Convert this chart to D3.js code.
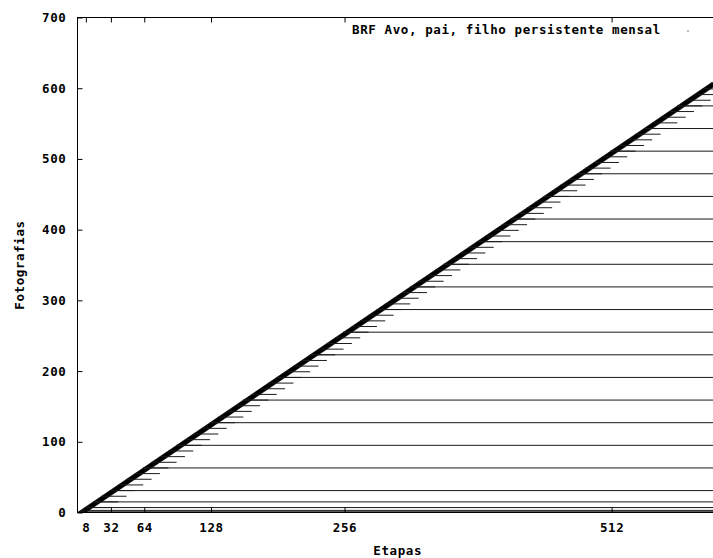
<!DOCTYPE html>
<html>
<head>
<meta charset="utf-8">
<script src="https://cdn.jsdelivr.net/npm/d3@7"></script>
<style>
  body { margin: 0; background: #fff; }
  text { font-family: "DejaVu Sans Mono", monospace; font-weight: bold; font-size: 12.5px; letter-spacing: 0.6px; fill: #000; }
</style>
</head>
<body>
<svg id="chart" width="713" height="558"></svg>
<script>
/* global d3 */

var xTicks = [8, 32, 64, 128, 256, 512];
var yTicks = [0, 100, 200, 300, 400, 500, 600, 700];

// daily photos: first and last photo number, each kept 8 stages
var dailyIds = [0, 608];
var dailyKeep = 8;

// weekly photos, each kept 24 stages
var weeklyIds = [7, 15, 23, 31, 39, 47, 55, 63, 71, 79, 87, 95, 103, 111, 119, 127,
  135, 143, 151, 159, 167, 175, 183, 191, 199, 207, 215, 223, 231, 239, 247, 255,
  263, 271, 279, 287, 295, 303, 311, 319, 327, 335, 343, 351, 359, 367, 375, 383,
  391, 399, 407, 415, 423, 431, 439, 447, 455, 463, 471, 479, 487, 495, 503, 511,
  519, 527, 535, 543, 551, 559, 567, 575, 583, 591, 599, 607];
var weeklyKeep = 24;

// photos that are never removed
var persistentIds = [0, 1, 3, 7, 15, 31, 63, 95, 127, 159, 191, 223, 255, 287, 319,
  351, 383, 415, 447, 479, 511, 543, 575, 607];

var lastStage = 614;
var legendLabel = "BRF Avo, pai, filho persistente mensal";

var svg = d3.select("#chart");
var plotLeft = 77.5, plotRight = 718, plotTop = 17.5, plotBottom = 512.5;

var x = d3.scaleLinear().domain([0, lastStage]).range([plotLeft, plotRight]);
var y = d3.scaleLinear().domain([0, 700]).range([plotBottom, plotTop]);

svg.append("clipPath")
  .attr("id", "plot-clip")
  .append("rect")
  .attr("x", plotLeft)
  .attr("y", plotTop - 1)
  .attr("width", plotRight - plotLeft)
  .attr("height", plotBottom - plotTop + 2);

var plot = svg.append("g").attr("clip-path", "url(#plot-clip)");

// thick diagonal made of the daily photos
var band = d3.area()
  .y(d => y(d))
  .x0(d => x(d))
  .x1(d => x(d + dailyKeep));

plot.append("path")
  .datum(dailyIds)
  .attr("d", band)
  .attr("fill", "#000")
  .attr("stroke", "#000")
  .attr("stroke-width", 0.6);

plot.append("g")
  .selectAll("line")
  .data(weeklyIds)
  .join("line")
  .attr("x1", d => x(d))
  .attr("x2", d => x(d + weeklyKeep))
  .attr("y1", d => y(d))
  .attr("y2", d => y(d))
  .attr("stroke", "#1a1a1a")
  .attr("stroke-width", 1);

plot.append("g")
  .selectAll("line")
  .data(persistentIds)
  .join("line")
  .attr("x1", d => x(d))
  .attr("x2", plotRight)
  .attr("y1", d => y(d))
  .attr("y2", d => y(d))
  .attr("stroke", "#1a1a1a")
  .attr("stroke-width", 1);

// border
svg.append("rect")
  .attr("x", plotLeft)
  .attr("y", plotTop)
  .attr("width", plotRight - plotLeft)
  .attr("height", plotBottom - plotTop)
  .attr("fill", "none")
  .attr("stroke", "#000")
  .attr("stroke-width", 1);

svg.append("g")
  .attr("transform", `translate(${plotLeft},0)`)
  .call(d3.axisLeft(y).tickValues(yTicks).tickSizeInner(-5).tickSizeOuter(0).tickPadding(11))
  .call(g => g.select(".domain").remove())
  .call(g => g.selectAll("text").attr("font-family", null).attr("font-size", null));

svg.append("g")
  .attr("transform", `translate(0,${plotBottom})`)
  .call(d3.axisBottom(x).tickValues(xTicks).tickSizeInner(-5).tickSizeOuter(0).tickPadding(11))
  .call(g => g.select(".domain").remove())
  .call(g => g.selectAll("text").attr("font-family", null).attr("font-size", null));

svg.append("g")
  .attr("transform", `translate(0,${plotTop})`)
  .call(d3.axisTop(x).tickValues(xTicks).tickSizeInner(-5).tickSizeOuter(0).tickFormat(""))
  .call(g => g.select(".domain").remove());

svg.append("text")
  .attr("x", (plotLeft + plotRight) / 2)
  .attr("y", 555)
  .attr("text-anchor", "middle")
  .text("Etapas");

svg.append("text")
  .attr("transform", `translate(24,${(plotTop + plotBottom) / 2}) rotate(-90)`)
  .attr("text-anchor", "middle")
  .text("Fotografias");

svg.append("text")
  .attr("x", 352)
  .attr("y", 34)
  .text(legendLabel);

svg.append("rect")
  .attr("x", 687.5)
  .attr("y", 30.5)
  .attr("width", 1)
  .attr("height", 1)
  .attr("fill", "#000");
</script>
</body>
</html>
